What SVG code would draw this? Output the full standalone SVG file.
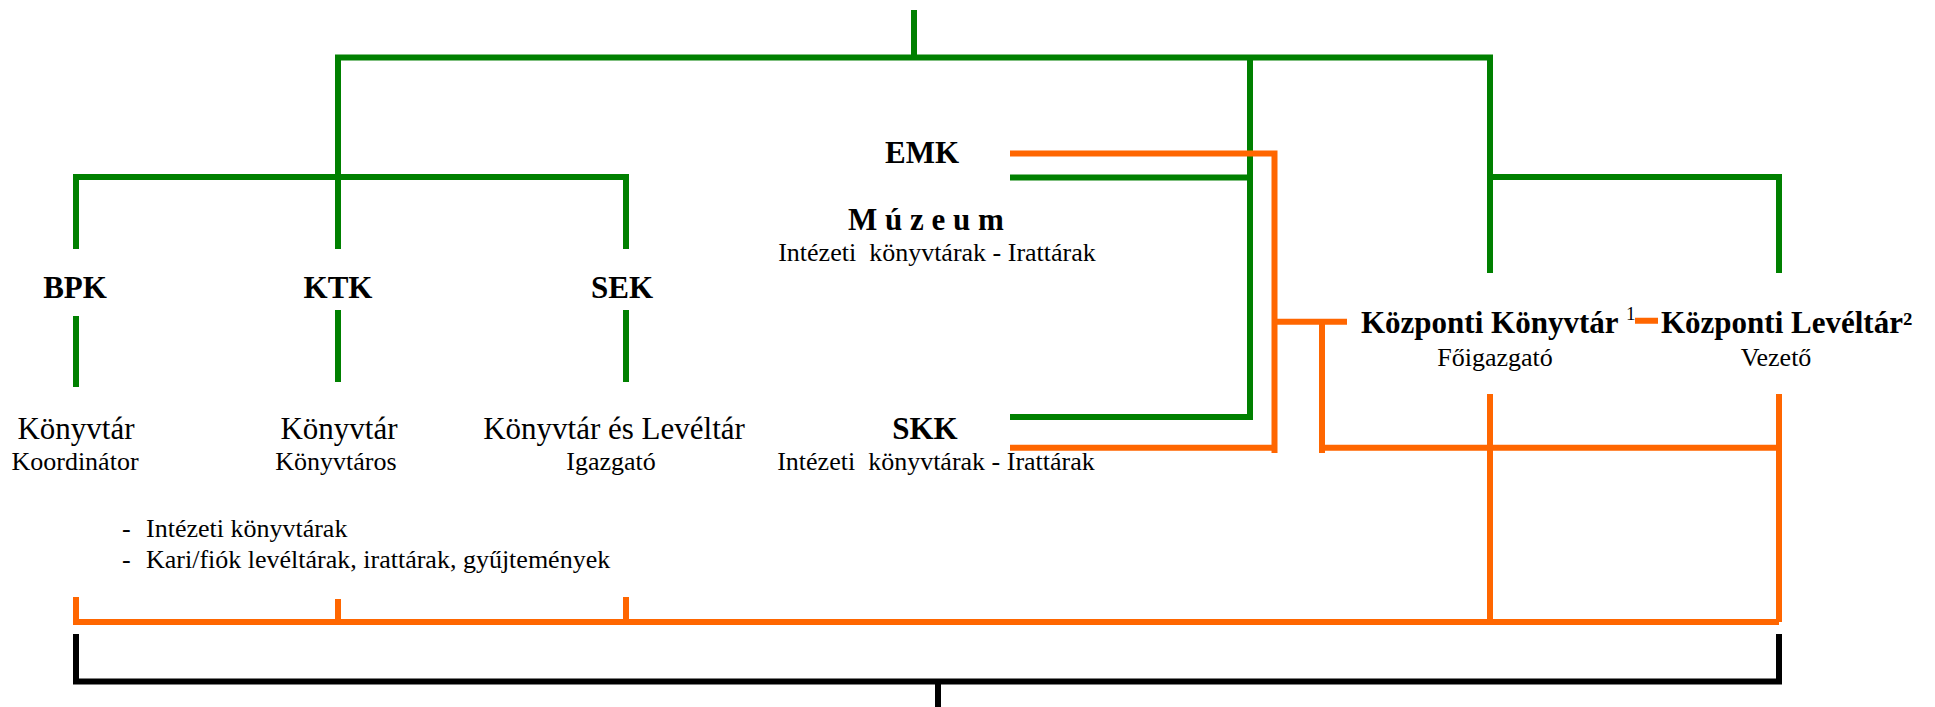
<svg xmlns="http://www.w3.org/2000/svg" width="1935" height="707" viewBox="0 0 1935 707">
<style>
.g{fill:none;stroke:#008000;stroke-width:6;stroke-linejoin:miter}
.o{fill:none;stroke:#ff6600;stroke-width:6;stroke-linejoin:miter}
.k{fill:none;stroke:#000;stroke-width:6;stroke-linejoin:miter}
text{font-family:"Liberation Serif","Times New Roman",serif;fill:#000;white-space:pre}
.b{font-weight:bold;font-size:31px}
.r{font-size:31px}
.s{font-size:26px}
.m{text-anchor:middle}
</style>
<rect width="1935" height="707" fill="#fff"/>
<g id="connectors">
<path class="g" d="M914,10V57.5M338,249V57.5H1490V273M76,249V177H626V249M338,177V249M76,316V387M338,310V382M626,310V382M1250,57.5V417H1010M1010,177.5H1250M1490,177H1779V273"/>
<path class="o" d="M1010,153.5H1274.5V453M1010,447.7H1274.5M1274.5,321.7H1347M1322,321.7V453M1322,447.7H1779M1490,394V622M1779,394V622M76,597V622H1779M338,599V622M626,597V622M1635,320.7H1658"/>
<path class="k" d="M76,634V681.5H1779V634M938,681.5V707"/>
</g>
<g id="bpk"><text class="b m" x="75" y="298">BPK</text><text class="r m" x="76" y="439">Könyvtár</text><text class="s m" x="75" y="470">Koordinátor</text></g>
<g id="ktk"><text class="b m" x="338" y="298">KTK</text><text class="r m" x="339" y="439">Könyvtár</text><text class="s m" x="336" y="470">Könyvtáros</text></g>
<g id="sek"><text class="b m" x="622" y="298">SEK</text><text class="r m" x="614" y="439">Könyvtár és Levéltár</text><text class="s m" x="611" y="470">Igazgató</text></g>
<g id="list"><text class="s" x="122" y="537">-</text><text class="s" x="146" y="537">Intézeti könyvtárak</text><text class="s" x="122" y="568">-</text><text class="s" x="146" y="568">Kari/fiók levéltárak, irattárak, gyűjtemények</text></g>
<g id="emk"><text class="b m" x="922" y="163">EMK</text></g>
<g id="muzeum"><text class="b m" x="926" y="230">M ú z e u m</text><text class="s m" x="937" y="261">Intézeti  könyvtárak - Irattárak</text></g>
<g id="skk"><text class="b m" x="925" y="439">SKK</text><text class="s m" x="936" y="470">Intézeti  könyvtárak - Irattárak</text></g>
<g id="kozponti-konyvtar"><text class="b" x="1361" y="333">Központi Könyvtár</text><text x="1626" y="320" font-size="19">1</text><text class="s m" x="1495" y="366">Főigazgató</text></g>
<g id="kozponti-leveltar"><text class="b" x="1661" y="333">Központi Levéltár²</text><text class="s m" x="1776" y="366">Vezető</text></g>
</svg>
